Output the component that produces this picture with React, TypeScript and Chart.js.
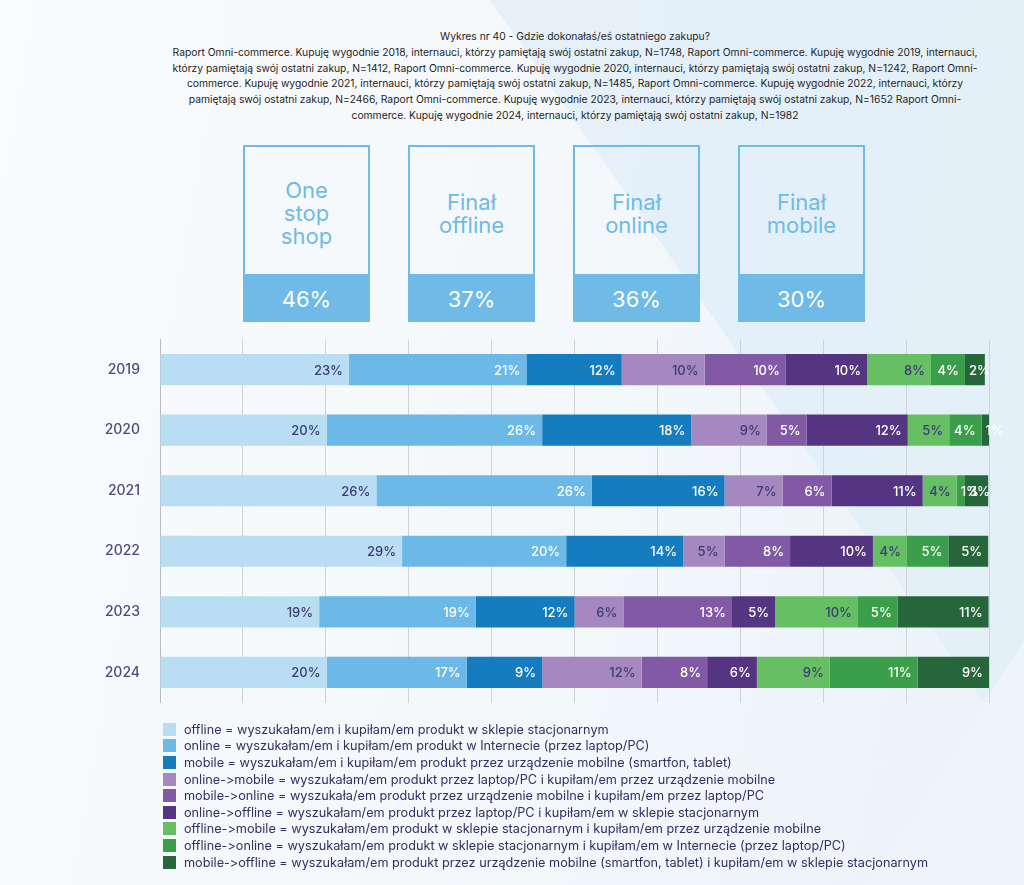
import React, { useEffect, useRef } from "react";
import { Chart, registerables } from "chart.js";

Chart.register(...registerables);

const titleLine = "Wykres nr 40 - Gdzie dokonałaś/eś ostatniego zakupu?";
const subtitleLines = [
  "Raport Omni-commerce. Kupuję wygodnie 2018, internauci, którzy pamiętają swój ostatni zakup, N=1748, Raport Omni-commerce. Kupuję wygodnie 2019, internauci,",
  "którzy pamiętają swój ostatni zakup, N=1412, Raport Omni-commerce. Kupuję wygodnie 2020, internauci, którzy pamiętają swój ostatni zakup, N=1242, Raport Omni-",
  "commerce. Kupuję wygodnie 2021, internauci, którzy pamiętają swój ostatni zakup, N=1485, Raport Omni-commerce. Kupuję wygodnie 2022, internauci, którzy",
  "pamiętają swój ostatni zakup, N=2466, Raport Omni-commerce. Kupuję wygodnie 2023, internauci, którzy pamiętają swój ostatni zakup, N=1652 Raport Omni-",
  "commerce. Kupuję wygodnie 2024, internauci, którzy pamiętają swój ostatni zakup, N=1982",
];

const boxTitles = [["One", "stop", "shop"], ["Finał", "offline"], ["Finał", "online"], ["Finał", "mobile"]];
const boxValues = ["46%", "37%", "36%", "30%"];

const years = ["2019", "2020", "2021", "2022", "2023", "2024"];

const offline = [22.8, 20.1, 26.1, 29.2, 19.2, 20.1];
const online = [21.4, 26.0, 26.0, 19.8, 18.9, 16.9];
const mobile = [11.5, 18.0, 16.0, 14.1, 11.9, 9.1];
const onlineToMobile = [10.0, 9.1, 7.0, 5.0, 5.9, 12.0];
const mobileToOnline = [9.8, 4.8, 5.9, 7.9, 13.1, 7.9];
const onlineToOffline = [9.8, 12.2, 11.0, 10.0, 5.2, 6.0];
const offlineToMobile = [7.7, 5.0, 4.1, 4.1, 10.0, 8.8];
const offlineToOnline = [4.1, 3.9, 1.0, 5.0, 4.8, 10.6];
const mobileToOffline = [2.4, 0.9, 2.8, 4.8, 10.95, 8.6];

const seriesValues = [
  offline, online, mobile, onlineToMobile, mobileToOnline, onlineToOffline,
  offlineToMobile, offlineToOnline, mobileToOffline,
];

const seriesLabels = [
  "offline = wyszukałam/em i kupiłam/em produkt w sklepie stacjonarnym",
  "online = wyszukałam/em i kupiłam/em produkt w Internecie (przez laptop/PC)",
  "mobile = wyszukałam/em i kupiłam/em produkt przez urządzenie mobilne (smartfon, tablet)",
  "online->mobile = wyszukałam/em produkt przez laptop/PC i kupiłam/em przez urządzenie mobilne",
  "mobile->online = wyszukała/em produkt przez urządzenie mobilne i kupiłam/em przez laptop/PC",
  "online->offline = wyszukałam/em produkt przez laptop/PC i kupiłam/em w sklepie stacjonarnym",
  "offline->mobile = wyszukałam/em produkt w sklepie stacjonarnym i kupiłam/em przez urządzenie mobilne",
  "offline->online = wyszukałam/em produkt w sklepie stacjonarnym i kupiłam/em w Internecie (przez laptop/PC)",
  "mobile->offline = wyszukałam/em produkt przez urządzenie mobilne (smartfon, tablet) i kupiłam/em w sklepie stacjonarnym",
];

const seriesColors = [
  "#b9ddf2", "#6cb9e7", "#157cbf", "#a688c0", "#8159a4", "#553581",
  "#67bf63", "#3b9e4a", "#27653a",
];

const darkLabel = [true, false, false, true, false, false, true, false, false];

const FONT = "Inter, 'Noto Sans', sans-serif";
const NAVY = "#3b3c74";

const labelPlugin = {
  id: "segLabels",
  afterDatasetsDraw(chart: any) {
    const ctx = chart.ctx;
    ctx.save();
    ctx.font = `500 13px ${FONT}`;
    ctx.textBaseline = "middle";
    ctx.textAlign = "left";
    chart.data.datasets.forEach((ds: any, di: number) => {
      const meta = chart.getDatasetMeta(di);
      meta.data.forEach((el: any, i: number) => {
        const v = ds.data[i];
        const txt = Math.round(v) + "%";
        const w = ctx.measureText(txt).width;
        const start = Math.min(el.base, el.x);
        const end = Math.max(el.base, el.x);
        const right = Math.max(end - 6, start + 4 + w);
        ctx.fillStyle = darkLabel[di] ? NAVY : "#ffffff";
        ctx.fillText(txt, right - w, el.y + 1);
      });
    });
    ctx.restore();
  },
};

function StackedChart() {
  const ref = useRef<HTMLCanvasElement>(null);
  useEffect(() => {
    if (!ref.current) return;
    const chart = new Chart(ref.current, {
      type: "bar",
      data: {
        labels: years,
        datasets: seriesValues.map((vals, i) => ({
          label: seriesLabels[i],
          data: vals,
          backgroundColor: seriesColors[i],
          borderWidth: 0,
          categoryPercentage: 1,
          barPercentage: 0.515,
        })),
      },
      options: {
        indexAxis: "y",
        responsive: false,
        animation: false,
        layout: { padding: { top: 9, bottom: 7, left: 0, right: 35 } },
        plugins: {
          legend: { display: false },
          tooltip: { enabled: false },
          title: { display: false },
        },
        scales: {
          x: {
            stacked: true,
            min: 0,
            max: 100,
            ticks: { display: false, stepSize: 10 },
            grid: { color: "#cfd2d6", lineWidth: 1, drawTicks: false },
            border: { display: false },
          },
          y: {
            stacked: true,
            afterFit: (s: any) => { s.width = 160; },
            ticks: {
              color: "#474b80",
              font: { family: FONT, size: 14, weight: "500" },
              padding: 20,
            },
            grid: { display: false, drawTicks: false },
            border: { display: true, color: "#b8bcc2", width: 1 },
          },
        },
      },
      plugins: [labelPlugin],
    } as any);
    return () => chart.destroy();
  }, []);
  return <canvas ref={ref} width={1024} height={420} style={{ display: "block" }} />;
}

export default function App() {
  return (
    <div
      style={{
        position: "fixed",
        left: 0,
        top: 0,
        width: 1024,
        height: 885,
        overflow: "hidden",
        fontFamily: FONT,
        fontFeatureSettings: "'calt' 0, 'liga' 0",
        fontVariantLigatures: "none",
        background: "linear-gradient(100deg, #f9fbfd 0%, #f4f8fb 50%, #eaf3f9 100%)",
      }}
    >
      <div
        style={{
          position: "absolute", left: 0, top: 0, width: 1024, height: 885,
          background: "#e2eff8", opacity: 0.85,
          clipPath: "polygon(490px 0px, 1024px 0px, 1024px 760px)",
        }}
      />
      <div
        style={{
          position: "absolute", left: 0, top: 0, width: 1024, height: 885,
          background: "#edf5fa",
          clipPath: "polygon(1024px 640px, 1024px 885px, 870px 885px)",
        }}
      />
      <div
        style={{
          position: "absolute", left: 160, top: 29, width: 830,
          textAlign: "center", color: "#1f1f1f", fontSize: 10.3, lineHeight: "15.8px",
          whiteSpace: "nowrap",
        }}
      >
        <div>{titleLine}</div>
        {subtitleLines.map((l, i) => (
          <div key={i}>{l}</div>
        ))}
      </div>

      {boxTitles.map((lines, i) => (
        <div
          key={i}
          style={{
            position: "absolute", left: 243 + i * 165, top: 145, width: 127, height: 177,
            boxSizing: "border-box", border: "2px solid #6fbae7",
          }}
        >
          <div
            style={{
              position: "absolute", left: 0, right: 0, top: 0, height: 129,
              display: "flex", flexDirection: "column", justifyContent: "center", alignItems: "center",
              color: "#6fbae7", fontSize: 22, lineHeight: "23px", paddingTop: 4, boxSizing: "border-box",
            }}
          >
            {lines.map((t, j) => (
              <div key={j}>{t}</div>
            ))}
          </div>
          <div
            style={{
              position: "absolute", left: 0, right: 0, bottom: 0, height: 46,
              background: "#6fbae7", color: "#ffffff", fontSize: 22,
              display: "flex", alignItems: "center", justifyContent: "center", paddingTop: 4,
              boxSizing: "border-box",
            }}
          >
            {boxValues[i]}
          </div>
        </div>
      ))}

      <div style={{ position: "absolute", left: 0, top: 311 }}>
        <StackedChart />
      </div>

      <div style={{ position: "absolute", left: 163, top: 721 }}>
        {seriesLabels.map((t, i) => (
          <div key={i} style={{ display: "flex", alignItems: "center", height: 16.6 }}>
            <span
              style={{
                display: "inline-block", width: 13, height: 13, background: seriesColors[i],
                marginRight: 8, flex: "none",
              }}
            />
            <span style={{ color: "#2f3063", fontSize: 12.7, whiteSpace: "nowrap" }}>{t}</span>
          </div>
        ))}
      </div>
    </div>
  );
}
